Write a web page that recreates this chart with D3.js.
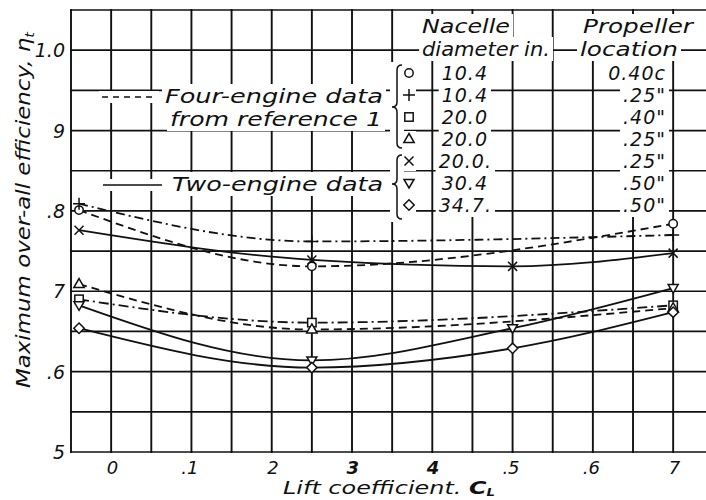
<!DOCTYPE html>
<html>
<head>
<meta charset="utf-8">
<script src="https://cdn.jsdelivr.net/npm/d3@7"></script>
<style>
  body { margin: 0; background: #fff; }
  svg { display: block; }
  text { font-family: "DejaVu Sans", sans-serif; font-style: italic; fill: #111; }
</style>
</head>
<body>
<svg id="chart" width="706" height="500"></svg>
<script>
// Lift coefficients at which each configuration was tested
const twoEngineCL = [-0.04, 0.25, 0.5, 0.7];
const fourEngineCL = [-0.04, 0.25, 0.7];

// Maximum over-all efficiency, four-engine data (reference 1)
const eta_10_4_40 = [0.801, 0.731, 0.784];   // o  10.4 in., 0.40c
const eta_10_4_25 = [0.809, 0.762, 0.770];   // +  10.4 in., .25c
const eta_20_0_40 = [0.690, 0.661, 0.6825];  // □  20.0 in., .40c
const eta_20_0_25 = [0.709, 0.6525, 0.679];  // △  20.0 in., .25c

// Maximum over-all efficiency, two-engine data
const eta2_20_0_25 = [0.776, 0.739, 0.731, 0.7475]; // ×  20.0 in., .25c
const eta2_30_4_50 = [0.6825, 0.614, 0.654, 0.704]; // ▽  30.4 in., .50c
const eta2_34_7_50 = [0.654, 0.605, 0.629, 0.674];  // ◇  34.7 in., .50c

// Legend table columns
const legendSymbols = ["circle", "plus", "square", "triangle", "cross", "downTriangle", "diamond"];
const nacelleDiameters = ["10.4", "10.4", "20.0", "20.0", "20.0.", "30.4", "34.7."];
const propellerLocations = ["0.40c", ".25\"", ".40\"", ".25\"", ".25\"", ".50\"", ".50\""];

// Axis ticks
const xTickValues = [0, 0.1, 0.2, 0.3, 0.4, 0.5, 0.6, 0.7];
const xTickLabels = ["0", ".1", "2", "3", "4", ".5", ".6", "7"];
const yTickValues = [0.5, 0.6, 0.7, 0.8, 0.9, 1.0];
const yTickLabels = ["5", ".6", "7", ".8", "9", "1.0"];

const series = [
  { cl: fourEngineCL, eta: eta_10_4_40, symbol: "circle", dash: "8,5" },
  { cl: fourEngineCL, eta: eta_10_4_25, symbol: "plus", dash: "9,4,2,4" },
  { cl: fourEngineCL, eta: eta_20_0_40, symbol: "square", dash: "10,4,2,4" },
  { cl: fourEngineCL, eta: eta_20_0_25, symbol: "triangle", dash: "8,5" },
  { cl: twoEngineCL, eta: eta2_20_0_25, symbol: "cross", dash: null },
  { cl: twoEngineCL, eta: eta2_30_4_50, symbol: "downTriangle", dash: null },
  { cl: twoEngineCL, eta: eta2_34_7_50, symbol: "diamond", dash: null }
];

const svg = d3.select("#chart");
const x = d3.scaleLinear().domain([-0.05, 0.75]).range([71, 713.3]);
const y = d3.scaleLinear().domain([0.5, 1.05]).range([452, 10]);

const gGrid = svg.append("g");
const gMask = svg.append("g");
const gLines = svg.append("g");
const gMarks = svg.append("g");
const gText = svg.append("g");

// Grid at every 0.05 in both directions (includes left, top and bottom borders)
const xGrid = d3.range(0, 17).map(i => +(-0.05 + i * 0.05).toFixed(2));
const yGrid = d3.range(0, 12).map(i => +(0.5 + i * 0.05).toFixed(2));
gGrid.selectAll("line.v").data(xGrid).join("line")
  .attr("x1", d => x(d)).attr("x2", d => x(d))
  .attr("y1", y(1.05) - 1).attr("y2", y(0.5) + 1)
  .attr("stroke", "#111").attr("stroke-width", 1.9);
gGrid.selectAll("line.h").data(yGrid).join("line")
  .attr("x1", x(-0.05) - 1).attr("x2", 706)
  .attr("y1", d => y(d)).attr("y2", d => y(d))
  .attr("stroke", "#111").attr("stroke-width", 1.7);

// Curves
const line = d3.line().x(d => x(d[0])).y(d => y(d[1])).curve(d3.curveMonotoneX);
series.forEach(s => {
  const pts = s.cl.map((c, i) => [c, s.eta[i]]);
  gLines.append("path").attr("d", line(pts))
    .attr("fill", "none").attr("stroke", "#111").attr("stroke-width", 1.8)
    .attr("stroke-dasharray", s.dash);
});

// Marker shapes
function drawSymbol(g, type, cx, cy) {
  const st = { stroke: "#111", "stroke-width": 1.5, fill: "#fff" };
  let el;
  switch (type) {
    case "circle": el = g.append("circle").attr("cx", cx).attr("cy", cy).attr("r", 4.2); break;
    case "square": el = g.append("rect").attr("x", cx - 4.2).attr("y", cy - 4.2).attr("width", 8.4).attr("height", 8.4); break;
    case "triangle": el = g.append("path").attr("d", `M${cx},${cy - 5.5}L${cx + 5.2},${cy + 3.5}L${cx - 5.2},${cy + 3.5}Z`); break;
    case "downTriangle": el = g.append("path").attr("d", `M${cx},${cy + 5}L${cx + 5},${cy - 3.5}L${cx - 5},${cy - 3.5}Z`); break;
    case "diamond": el = g.append("path").attr("d", `M${cx},${cy - 5.2}L${cx + 5.2},${cy}L${cx},${cy + 5.2}L${cx - 5.2},${cy}Z`); break;
    case "plus": el = g.append("path").attr("d", `M${cx - 6},${cy}H${cx + 6}M${cx},${cy - 6}V${cy + 6}`); st.fill = "none"; break;
    case "cross": el = g.append("path").attr("d", `M${cx - 4.5},${cy - 4.5}L${cx + 4.5},${cy + 4.5}M${cx + 4.5},${cy - 4.5}L${cx - 4.5},${cy + 4.5}`); st.fill = "none"; break;
  }
  Object.entries(st).forEach(([k, v]) => el.attr(k, v));
}
series.forEach(s => s.cl.forEach((c, i) => drawSymbol(gMarks, s.symbol, x(c), y(s.eta[i]))));

// Text helper; each label gets a white patch that breaks the grid beneath it
function label(txt, px, py, opts = {}) {
  const t = gText.append("text").attr("x", px).attr("y", py)
    .attr("font-size", opts.size || 19)
    .attr("text-anchor", opts.anchor || "start")
    .text(txt);
  if (opts.len) t.attr("textLength", opts.len).attr("lengthAdjust", "spacingAndGlyphs");
  if (opts.weight) t.attr("font-weight", opts.weight);
  if (opts.spacing) t.attr("letter-spacing", opts.spacing);
  if (opts.mask !== false) {
    const b = t.node().getBBox();
    const p = opts.pad || 3;
    gMask.append("rect").attr("x", b.x - p).attr("y", b.y - p + 2)
      .attr("width", b.width + 2 * p).attr("height", b.height + 2 * p - 4)
      .attr("fill", "#fff");
  }
  return t;
}

// Axis tick labels
xTickValues.forEach((v, i) => {
  label(xTickLabels[i], x(v) + 7, 474, {
    anchor: "end", size: 18, mask: false,
    weight: (v === 0.3 || v === 0.4) ? "bold" : null
  });
});
yTickValues.forEach((v, i) => {
  label(yTickLabels[i], 65, y(v) + 7, { anchor: "end", size: 19, mask: false });
});

// Axis titles
const xt = gText.append("text").attr("x", 283).attr("y", 494).attr("font-size", 18)
  .attr("textLength", 212).attr("lengthAdjust", "spacingAndGlyphs");
xt.append("tspan").text("Lift coefficient. ");
xt.append("tspan").attr("font-weight", "bold").text("C");
xt.append("tspan").attr("font-size", 10).attr("font-weight", "bold").attr("dy", 2).text("L");

const yt = gText.append("text").attr("transform", "translate(30,388) rotate(-90)")
  .attr("font-size", 19).attr("textLength", 356).attr("lengthAdjust", "spacingAndGlyphs");
yt.append("tspan").text("Maximum over-all efficiency, η");
yt.append("tspan").attr("font-size", 12).attr("dy", 4).text("t");

// Legend: line styles
label("Four-engine data", 165, 103, { len: 218 });
label("from reference 1", 170, 126, { len: 212 });
label("Two-engine data", 172, 191, { len: 211 });
gMask.append("rect").attr("x", 99).attr("y", 91).attr("width", 60).attr("height", 12).attr("fill", "#fff");
gMask.append("rect").attr("x", 99).attr("y", 179).attr("width", 66).attr("height", 12).attr("fill", "#fff");
gText.append("line").attr("x1", 102).attr("x2", 156).attr("y1", 97).attr("y2", 97)
  .attr("stroke", "#111").attr("stroke-width", 1.7).attr("stroke-dasharray", "6,5");
gText.append("line").attr("x1", 103).attr("x2", 162).attr("y1", 185).attr("y2", 185)
  .attr("stroke", "#111").attr("stroke-width", 1.7);

// Legend: table header
label("Nacelle", 422, 33, { len: 88 });
label("diameter in.", 422, 56, { len: 128 });
label("Propeller", 583, 33, { len: 110 });
label("location", 580, 56, { len: 98 });

// Legend: table rows
const rowBase = 80, rowStep = 22;
legendSymbols.forEach((sym, i) => {
  const by = rowBase + i * rowStep;
  gMask.append("rect").attr("x", 403).attr("y", by - 15).attr("width", 13).attr("height", 18).attr("fill", "#fff");
  drawSymbol(gText, sym, 409, by - 7);
  label(nacelleDiameters[i], nacelleDiameters[i].endsWith(".") ? 492 : 488, by, { anchor: "end", spacing: 1 });
  label(propellerLocations[i], 666, by, { anchor: "end", spacing: 1 });
});

// Braces grouping the four-engine and two-engine rows
function brace(xTip, xStem, y0, yc, y1) {
  const r = 5;
  const xr = xStem + 5;
  return `M${xr},${y0}Q${xStem},${y0} ${xStem},${y0 + r}L${xStem},${yc - r}Q${xStem},${yc} ${xTip},${yc}` +
         `Q${xStem},${yc} ${xStem},${yc + r}L${xStem},${y1 - r}Q${xStem},${y1} ${xr},${y1}`;
}
gMask.append("rect").attr("x", 390).attr("y", 62).attr("width", 14).attr("height", 160).attr("fill", "#fff");
gText.append("path").attr("d", brace(392, 397, 65, 107, 148))
  .attr("fill", "none").attr("stroke", "#111").attr("stroke-width", 1.5);
gText.append("path").attr("d", brace(392, 397, 155, 184, 219))
  .attr("fill", "none").attr("stroke", "#111").attr("stroke-width", 1.5);
</script>
</body>
</html>
